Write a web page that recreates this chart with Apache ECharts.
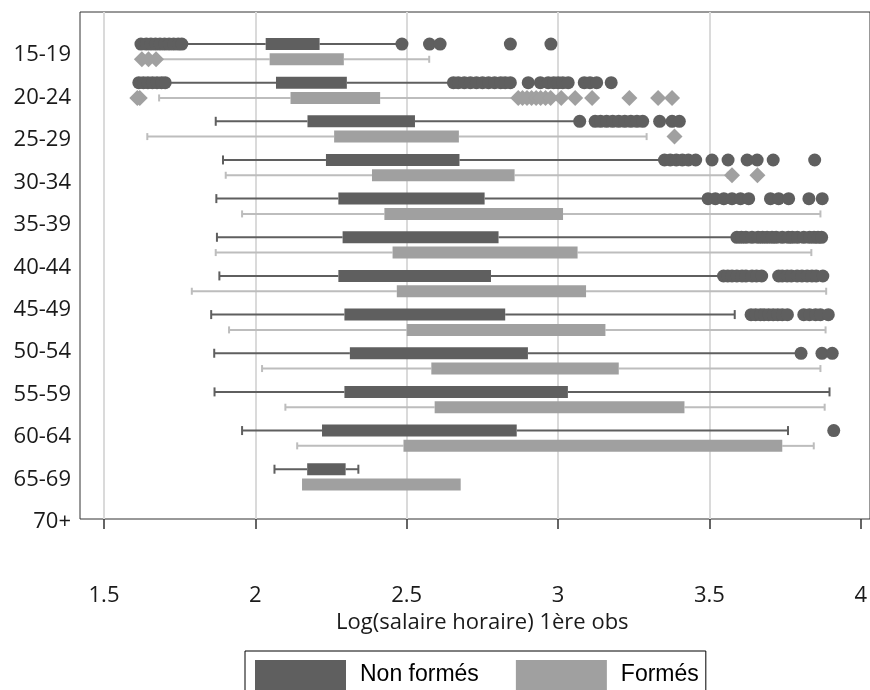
<!DOCTYPE html>
<html>
<head>
<meta charset="utf-8">
<script src="https://cdn.jsdelivr.net/npm/echarts@6/dist/echarts.min.js"></script>
<style>html,body{margin:0;padding:0;background:#fff}#c{width:870px;height:690px}</style>
</head>
<body>
<div id="c"></div>
<script>
// ---- Data ----
const ageGroups = ['15-19','20-24','25-29','30-34','35-39','40-44','45-49','50-54','55-59','60-64','65-69','70+'];
const xTicks = [1.5, 2, 2.5, 3, 3.5, 4];

// Non formés (dark): whisker low, Q1, Q3, whisker high
const nfLow  = [1.757, 1.702, 1.869, 1.893, 1.871, 1.873, 1.881, 1.854, 1.864, 1.865, 1.956, 2.063];
const nfQ1   = [2.034, 2.068, 2.172, 2.233, 2.274, 2.288, 2.274, 2.294, 2.312, 2.294, 2.220, 2.171];
const nfQ3   = [2.212, 2.302, 2.527, 2.674, 2.757, 2.803, 2.778, 2.825, 2.900, 3.032, 2.863, 2.298];
const nfHigh = [2.475, 2.653, 3.060, 3.345, 3.490, 3.580, 3.540, 3.583, 3.790, 3.896, 3.759, 2.340];
const nfOutliers = [
  [1.622,1.64,1.655,1.67,1.685,1.70,1.715,1.73,1.745,1.757,2.484,2.575,2.610,2.842,2.976],
  [1.615,1.63,1.645,1.66,1.675,1.69,1.702,2.654,2.67,2.69,2.71,2.73,2.75,2.77,2.79,2.81,2.825,2.842,2.901,2.941,2.967,2.985,3.0,3.015,3.033,3.086,3.105,3.127,3.175],
  [3.071,3.122,3.14,3.16,3.18,3.20,3.22,3.24,3.26,3.279,3.335,3.376,3.400],
  [3.351,3.37,3.39,3.41,3.43,3.454,3.508,3.561,3.624,3.657,3.710,3.847],
  [3.495,3.519,3.547,3.574,3.602,3.629,3.701,3.728,3.761,3.828,3.872],
  [3.590,3.605,3.62,3.64,3.66,3.675,3.69,3.706,3.72,3.740,3.76,3.773,3.79,3.811,3.83,3.845,3.858,3.870],
  [3.546,3.56,3.574,3.59,3.607,3.62,3.640,3.655,3.672,3.728,3.74,3.756,3.77,3.789,3.805,3.822,3.838,3.852,3.874],
  [3.637,3.652,3.668,3.68,3.695,3.71,3.725,3.74,3.757,3.811,3.83,3.850,3.866,3.892],
  [3.802,3.871,3.905],
  [],
  [3.910],
  []
];

// Formés (light)
const fLow  = [1.672, 1.682, 1.643, 1.902, 1.956, 1.869, 1.790, 1.913, 2.022, 2.099, 2.138, 2.154];
const fQ1   = [2.047, 2.116, 2.260, 2.385, 2.426, 2.453, 2.467, 2.500, 2.581, 2.592, 2.489, 2.154];
const fQ3   = [2.292, 2.412, 2.672, 2.856, 3.016, 3.064, 3.092, 3.156, 3.200, 3.417, 3.740, 2.678];
const fHigh = [2.574, 2.864, 3.292, 3.560, 3.866, 3.836, 3.885, 3.883, 3.866, 3.880, 3.844, 2.678];
const fOutliers = [
  [1.625,1.647,1.672],
  [1.610,1.618,2.868,2.882,2.897,2.912,2.927,2.942,2.958,2.975,3.010,3.056,3.112,3.235,3.330,3.376],
  [3.384],
  [3.574,3.658],
  [], [], [], [], [], [], [], []
];

// ---- Styles / layout ----
const DARK = '#5f5f5f', LIGHT = '#a0a0a0', LIGHT_WHISKER = '#bdbdbd';
const ROW_SHIFT = 0.198;   // fraction of band height between band centre and each box
const BOX_H = 12;
const OFFSET_PX = 7.6;

function boxData(lo, q1, q3, hi) {
  return ageGroups.map((g, i) => [i, lo[i], q1[i], q3[i], hi[i]]);
}
function outlierData(list) {
  const out = [];
  list.forEach((vals, i) => vals.forEach(v => out.push([v, i])));
  return out;
}
function boxRenderer(side, fill, whisker, capHalf) {
  return function (params, api) {
    const g = api.value(0);
    const lo = api.value(1), q1 = api.value(2), q3 = api.value(3), hi = api.value(4);
    const band = api.size([0, 1])[1];
    const y = api.coord([q1, g])[1] + side * band * ROW_SHIFT;
    const xl = api.coord([lo, g])[0], x1 = api.coord([q1, g])[0];
    const x3 = api.coord([q3, g])[0], xh = api.coord([hi, g])[0];
    const ls = { stroke: whisker, lineWidth: 2 };
    const children = [];
    if (xl < x1 - 0.5) {
      children.push({ type: 'line', shape: { x1: xl, y1: y, x2: x1, y2: y }, style: ls });
      children.push({ type: 'line', shape: { x1: xl, y1: y - capHalf, x2: xl, y2: y + capHalf }, style: ls });
    }
    if (xh > x3 + 0.5) {
      children.push({ type: 'line', shape: { x1: x3, y1: y, x2: xh, y2: y }, style: ls });
      children.push({ type: 'line', shape: { x1: xh, y1: y - capHalf, x2: xh, y2: y + capHalf }, style: ls });
    }
    children.push({ type: 'rect', shape: { x: x1, y: y - BOX_H / 2, width: x3 - x1, height: BOX_H }, style: { fill: fill } });
    return { type: 'group', children: children };
  };
}

const chart = echarts.init(document.getElementById('c'), null, { renderer: 'canvas' });
const axisFont = { fontFamily: 'Open Sans', fontSize: 22, color: '#1a1a1a' };

chart.setOption({
  animation: false,
  backgroundColor: '#fff',
  grid: [
    { left: 80, top: 12, right: -2, bottom: 171, show: true, borderColor: '#333', borderWidth: 1, backgroundColor: 'transparent' },
    { left: 104, right: 9, top: 12, bottom: 171 },
    { left: 104, right: 9, top: 32.3, height: 463.9 },
    { left: 80, right: 9, top: 55, height: 467 }
  ],
  xAxis: [
    { gridIndex: 0, type: 'value', show: false, min: 0, max: 1 },
    {
      gridIndex: 1, type: 'value', min: xTicks[0], max: xTicks[xTicks.length - 1], interval: 0.5,
      axisLine: { show: false },
      axisTick: { show: true, length: 10, lineStyle: { color: '#333', width: 1.5 } },
      splitLine: { show: true, showMaxLine: false, lineStyle: { color: '#dadada', width: 2 } },
      axisLabel: Object.assign({ margin: 66, formatter: v => String(v) }, axisFont),
      name: 'Log(salaire horaire) 1ère obs',
      nameLocation: 'middle', nameGap: 92,
      nameTextStyle: axisFont
    },
    { gridIndex: 2, type: 'value', min: xTicks[0], max: xTicks[xTicks.length - 1], show: false },
    { gridIndex: 3, type: 'value', show: false, min: 0, max: 1 }
  ],
  yAxis: [
    { gridIndex: 0, type: 'value', show: false, min: 0, max: 1 },
    { gridIndex: 1, type: 'value', show: false, min: 0, max: 1 },
    { gridIndex: 2, type: 'category', data: ageGroups, inverse: true, show: false },
    {
      gridIndex: 3, type: 'category', data: ageGroups, inverse: true, boundaryGap: false,
      axisLine: { show: false }, axisTick: { show: false }, splitLine: { show: false },
      axisLabel: Object.assign({ margin: 9, interval: 0 }, axisFont)
    }
  ],
  legend: {
    left: 245, top: 651,
    padding: [9, 7, 9, 10],
    itemWidth: 91, itemHeight: 30, itemGap: 37,
    borderColor: '#000', borderWidth: 1,
    textStyle: { fontFamily: 'Liberation Sans', fontSize: 23, color: '#000', padding: [0, 0, 0, 9] },
    data: [
      { name: 'Non formés', icon: 'rect', itemStyle: { color: DARK, borderWidth: 0 } },
      { name: 'Formés', icon: 'rect', itemStyle: { color: LIGHT, borderWidth: 0 } }
    ]
  },
  series: [
    {
      name: 'Non formés', type: 'custom', xAxisIndex: 2, yAxisIndex: 2,
      itemStyle: { color: DARK },
      encode: { x: [1, 2, 3, 4], y: 0 },
      renderItem: boxRenderer(-1, DARK, DARK, 4.5),
      data: boxData(nfLow, nfQ1, nfQ3, nfHigh)
    },
    {
      name: 'Formés', type: 'custom', xAxisIndex: 2, yAxisIndex: 2,
      itemStyle: { color: LIGHT },
      encode: { x: [1, 2, 3, 4], y: 0 },
      renderItem: boxRenderer(1, LIGHT, LIGHT_WHISKER, 3.5),
      data: boxData(fLow, fQ1, fQ3, fHigh)
    },
    {
      name: 'Non formés', type: 'scatter', xAxisIndex: 2, yAxisIndex: 2,
      symbol: 'circle', symbolSize: 13, symbolOffset: [0, -OFFSET_PX],
      itemStyle: { color: DARK, opacity: 1 },
      data: outlierData(nfOutliers)
    },
    {
      name: 'Formés', type: 'scatter', xAxisIndex: 2, yAxisIndex: 2,
      symbol: 'diamond', symbolSize: 16, symbolOffset: [0, OFFSET_PX],
      itemStyle: { color: LIGHT, opacity: 1 },
      data: outlierData(fOutliers)
    }
  ]
});
</script>
</body>
</html>
